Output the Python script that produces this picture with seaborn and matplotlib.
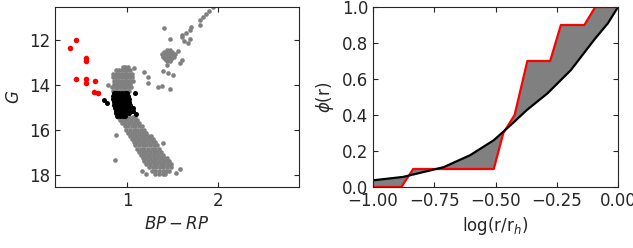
import numpy as np
import pandas as pd
import matplotlib
matplotlib.use("Agg")
import matplotlib.pyplot as plt
import seaborn as sns

# --- CMD data (BP-RP, G) ---
# field / cluster members (grey)
ms_x = [0.90, 0.94, 0.98, 1.02, 1.06, 1.09,
        0.92, 0.96, 1.00, 1.04, 1.08, 1.11,
        0.94, 0.98, 1.02, 1.06, 1.10, 1.13,
        0.97, 1.01, 1.05, 1.09, 1.13, 1.16,
        0.99, 1.03, 1.07, 1.11, 1.15, 1.19,
        1.01, 1.05, 1.09, 1.13, 1.17, 1.21,
        1.03, 1.07, 1.11, 1.15, 1.19, 1.23, 1.26,
        1.05, 1.09, 1.13, 1.17, 1.21, 1.25, 1.28,
        1.07, 1.11, 1.15, 1.19, 1.23, 1.27, 1.31,
        1.09, 1.13, 1.17, 1.21, 1.25, 1.29, 1.33,
        1.11, 1.15, 1.19, 1.23, 1.27, 1.31, 1.35,
        1.13, 1.17, 1.21, 1.25, 1.29, 1.33, 1.37,
        1.15, 1.19, 1.23, 1.27, 1.31, 1.35, 1.39,
        1.17, 1.21, 1.25, 1.29, 1.33, 1.37, 1.41, 1.44,
        1.19, 1.23, 1.27, 1.31, 1.35, 1.39, 1.43, 1.46,
        1.21, 1.25, 1.29, 1.33, 1.37, 1.41, 1.45, 1.48,
        1.24, 1.28, 1.32, 1.36, 1.40, 1.44, 1.48,
        1.27, 1.31, 1.35, 1.39, 1.43, 1.46,
        1.31, 1.35, 1.39, 1.42]
ms_g = ([15.42] * 6 + [15.56] * 6 + [15.70] * 6 + [15.84] * 6 + [15.98] * 6
        + [16.12] * 6 + [16.26] * 7 + [16.40] * 7 + [16.54] * 7 + [16.68] * 7
        + [16.82] * 7 + [16.96] * 7 + [17.10] * 7 + [17.24] * 8 + [17.38] * 8
        + [17.52] * 8 + [17.66] * 7 + [17.80] * 6 + [17.94] * 4)

to_x = [0.95, 0.98, 1.01,
        0.88, 0.91, 0.94, 0.97, 1.00, 1.03,
        0.84, 0.87, 0.90, 0.93, 0.96, 0.99, 1.02, 1.05,
        0.84, 0.87, 0.90, 0.93, 0.96, 0.99, 1.02, 1.05,
        0.85, 0.88, 0.91, 0.94, 0.97, 1.00, 1.03, 1.06,
        0.85, 0.88, 0.91, 0.94, 0.97, 1.00, 1.03,
        0.83, 0.86, 0.89, 0.92, 0.95, 0.98, 1.01, 1.04,
        0.84, 0.87, 0.90, 0.93, 0.96, 0.99, 1.02]
to_g = ([13.20] * 3 + [13.35] * 6 + [13.50] * 8 + [13.65] * 8 + [13.80] * 8
        + [13.95] * 7 + [14.10] * 8 + [14.25] * 7)

giant_x = [1.44, 1.47, 1.41, 1.44, 1.47, 1.50, 1.39, 1.42, 1.45, 1.48, 1.51,
           1.40, 1.43, 1.46, 1.49, 1.52, 1.42, 1.45, 1.48, 1.44, 1.47,
           1.38, 1.53, 1.56, 1.60, 1.58, 1.44,
           1.41, 1.47, 1.40, 1.45, 1.51, 1.34, 1.38, 1.47,
           1.18, 1.23, 1.23, 1.07, 0.79,
           1.60, 1.61, 1.65, 1.67, 1.69, 1.69, 1.71, 1.63,
           1.80, 1.81, 1.84, 1.87, 1.90, 1.95,
           0.87, 0.86, 1.16, 1.21, 1.58, 1.54, 1.40]
giant_g = [12.45, 12.45, 12.55, 12.55, 12.55, 12.55, 12.65, 12.65, 12.65, 12.65, 12.65,
           12.75, 12.75, 12.75, 12.75, 12.75, 12.85, 12.85, 12.85, 12.95, 12.95,
           12.60, 12.60, 12.50, 12.90, 13.03, 13.10,
           11.48, 11.93, 13.36, 13.45, 13.55, 14.09, 14.03, 14.18,
           13.40, 13.65, 13.89, 13.25, 14.00,
           11.78, 11.88, 11.70, 12.15, 11.93, 11.53, 11.41, 12.05,
           11.34, 11.12, 10.97, 10.82, 10.70, 10.55,
           16.23, 17.35, 17.83, 17.97, 17.75, 17.90, 16.57]

# selected stars (black)
sel_x = [0.85, 0.88, 0.91, 0.94, 0.97, 1.00,
         0.84, 0.87, 0.90, 0.93, 0.96, 0.99, 1.01,
         0.84, 0.87, 0.90, 0.93, 0.96, 0.99, 1.02,
         0.85, 0.88, 0.91, 0.94, 0.97, 1.00, 1.02,
         0.85, 0.88, 0.91, 0.94, 0.97, 1.00, 1.03,
         0.86, 0.89, 0.92, 0.95, 0.98, 1.01, 1.04, 1.06,
         0.87, 0.90, 0.93, 0.96, 0.99, 1.02, 1.05,
         0.87, 0.90, 0.93, 0.96, 0.99, 1.02,
         0.89, 0.92, 0.95, 0.98,
         0.74, 0.78, 1.08, 1.10, 1.06]
sel_g = ([14.35] * 6 + [14.48] * 7 + [14.61] * 7 + [14.74] * 7 + [14.87] * 7
         + [15.00] * 8 + [15.13] * 7 + [15.26] * 6 + [15.36] * 4
         + [14.65, 14.80, 14.36, 15.28, 15.15])

# blue stragglers (red)
bss_x = [0.37, 0.43, 0.54, 0.54, 0.43, 0.54, 0.54, 0.64, 0.63, 0.675]
bss_g = [12.37, 12.00, 12.78, 12.91, 13.73, 13.73, 13.89, 13.81, 14.30, 14.36]

# --- cumulative radial distributions ---
bss_logr = [-1.00, -0.884, -0.836, -0.507, -0.468, -0.422, -0.370, -0.277,
            -0.233, -0.137, -0.093, 0.00]
bss_phi = [0.0, 0.0, 0.10, 0.10, 0.30, 0.40, 0.70, 0.70, 0.90, 0.90, 1.0, 1.0]
ref_logr = [-1.00, -0.877, -0.712, -0.603, -0.507, -0.438, -0.370, -0.288,
            -0.192, -0.096, -0.041, 0.00]
ref_phi = [0.037, 0.056, 0.11, 0.177, 0.26, 0.344, 0.43, 0.52, 0.65, 0.82,
           0.91, 1.0]

sns.set_style("ticks", {"xtick.direction": "in", "ytick.direction": "in"})
plt.rcParams["font.family"] = ["DejaVu Sans"]
plt.rcParams["font.size"] = 12
plt.rcParams["xtick.top"] = True
plt.rcParams["ytick.right"] = True

fig = plt.figure(figsize=(6.33, 2.48), dpi=100)
ax1 = fig.add_axes([55 / 633, 61 / 248, 244 / 633, 180 / 248])
ax2 = fig.add_axes([373 / 633, 61 / 248, 245 / 633, 180 / 248])

grey = pd.DataFrame({"x": ms_x + to_x + giant_x, "g": ms_g + to_g + giant_g})
sns.scatterplot(data=grey, x="x", y="g", color="grey", s=11, linewidth=0, ax=ax1)
sns.scatterplot(x=sel_x, y=sel_g, color="k", s=13, linewidth=0, ax=ax1)
sns.scatterplot(x=bss_x, y=bss_g, color="red", s=16, linewidth=0, ax=ax1)
ax1.set_xlim(0.2, 2.9)
ax1.set_ylim(18.53, 10.53)
ax1.set_xticks([1, 2])
ax1.set_yticks([12, 14, 16, 18])
ax1.set_xlabel("$BP-RP$", fontsize=12)
ax1.set_ylabel("$G$", fontsize=12)

ax2.fill(np.r_[bss_logr, ref_logr[::-1]], np.r_[bss_phi, ref_phi[::-1]],
         color="grey", linewidth=0)
sns.lineplot(x=bss_logr, y=bss_phi, color="red", lw=1.6, sort=False,
             estimator=None, ax=ax2)
sns.lineplot(x=ref_logr, y=ref_phi, color="k", lw=1.6, sort=False,
             estimator=None, ax=ax2)
ax2.set_xlim(-1, 0)
ax2.set_ylim(0, 1)
ax2.set_xticks([-1.0, -0.75, -0.5, -0.25, 0.0])
ax2.set_xticklabels(["\u22121.00", "\u22120.75", "\u22120.50", "\u22120.25", "0.00"])
ax2.set_yticks([0, 0.2, 0.4, 0.6, 0.8, 1.0])
ax2.set_xlabel("log(r/r$_h$)", fontsize=12)
ax2.set_ylabel("$\\phi$(r)", fontsize=12)

for ax in (ax1, ax2):
    ax.tick_params(labelsize=12, direction="in", top=True, right=True)

fig.savefig("out.png", dpi=100)
